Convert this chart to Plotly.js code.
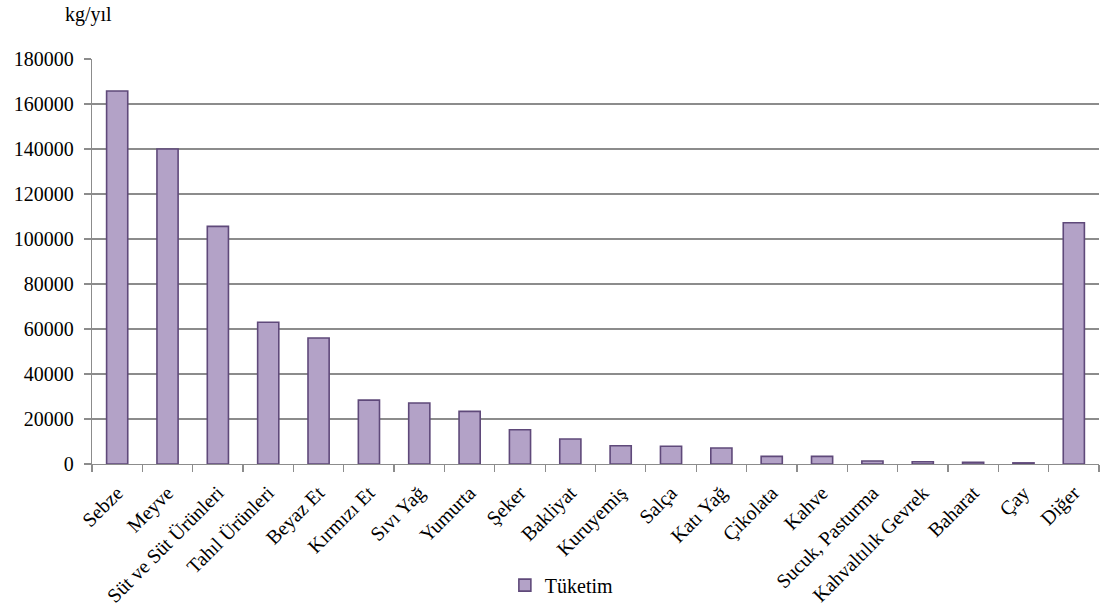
<!DOCTYPE html>
<html>
<head>
<meta charset="utf-8">
<script src="https://cdn.plot.ly/plotly-3.0.1.min.js"></script>
<style>html,body{margin:0;padding:0;background:#fff;}#chart{width:1103px;height:611px;}</style>
</head>
<body>
<div id="chart"></div>
<script>
var categories = ["Sebze","Meyve","Süt ve Süt Ürünleri","Tahıl Ürünleri","Beyaz Et","Kırmızı Et","Sıvı Yağ","Yumurta","Şeker","Bakliyat","Kuruyemiş","Salça","Katı Yağ","Çikolata","Kahve","Sucuk, Pasturma","Kahvaltılık Gevrek","Baharat","Çay","Diğer"];
var consumption = [165800,140000,105600,63000,56000,28400,27100,23400,15200,11100,8100,7900,7100,3400,3400,1300,1000,750,500,107200];
var seriesName = "Tüketim";
var unitLabel = "kg/yıl";
var yTicks = [0,20000,40000,60000,80000,100000,120000,140000,160000,180000];

var font = "Times New Roman, Liberation Serif, DejaVu Serif, serif";
var gridColor = "#8C8C8C";

var trace = {
  type: "bar",
  x: categories,
  y: consumption,
  name: seriesName,
  showlegend: true,
  marker: {color: "#B3A2C7", line: {color: "#5F497A", width: 1.6}}
};

var layout = {
  width: 1103, height: 611,
  margin: {l: 92, r: 4, t: 59, b: 147, pad: 0},
  paper_bgcolor: "#fff", plot_bgcolor: "#fff",
  font: {family: font, size: 20, color: "#000"},
  bargap: 0.58,
  showlegend: true,
  legend: {orientation: "h", x: 0.41, xanchor: "left", y: -0.299, yanchor: "middle",
           font: {family: font, size: 20, color: "#000"}, bgcolor: "rgba(0,0,0,0)"},
  xaxis: {
    type: "category",
    tickangle: -45,
    tickson: "boundaries",
    ticks: "outside", ticklen: 7, tickcolor: gridColor, tickwidth: 1.3,
    ticklabelstandoff: 8,
    showline: true, linecolor: gridColor, linewidth: 1.3,
    showgrid: false, zeroline: false,
    tickfont: {family: font, size: 20, color: "#000"},
    automargin: false
  },
  yaxis: {
    range: [0, 180000],
    tickvals: yTicks,
    ticktext: yTicks.map(String),
    ticks: "outside", ticklen: 7, tickcolor: gridColor, tickwidth: 1.3,
    ticklabelstandoff: 6,
    showline: true, linecolor: gridColor, linewidth: 1.3,
    showgrid: true, gridcolor: gridColor, gridwidth: 1.3,
    zeroline: false,
    tickfont: {family: font, size: 20, color: "#000"},
    automargin: false
  },
  annotations: [{
    text: unitLabel, xref: "paper", yref: "paper",
    x: -0.0285, xanchor: "left", y: 1.109, yanchor: "middle",
    showarrow: false, font: {family: font, size: 20, color: "#000"}
  }]
};

Plotly.newPlot("chart", [trace], layout, {displayModeBar: false, staticPlot: true});
</script>
</body>
</html>
